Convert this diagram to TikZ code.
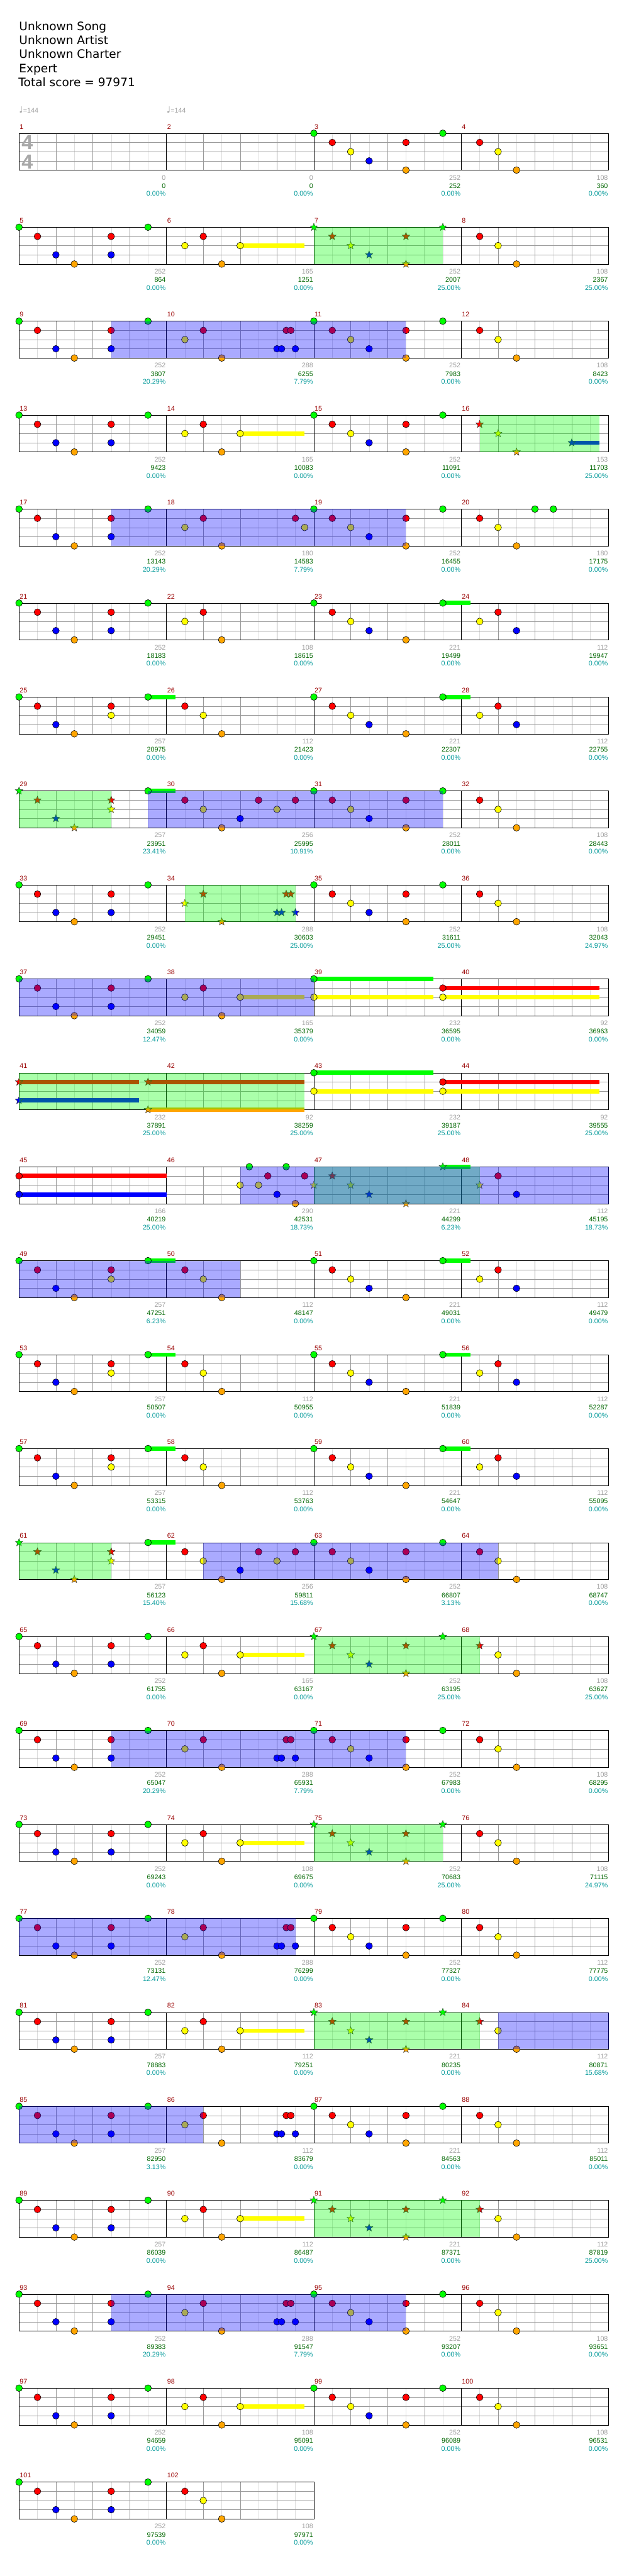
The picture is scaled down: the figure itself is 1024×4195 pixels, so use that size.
\documentclass[tikz,border=0pt]{standalone}
\usepackage{fontspec}
\setmainfont{DejaVu Sans}
\newfontfamily\sfont{Liberation Sans}
\newfontfamily\djv{DejaVu Sans}
\usetikzlibrary{shapes.geometric}
\definecolor{L0}{HTML}{00FF00}
\definecolor{L1}{HTML}{FF0000}
\definecolor{L2}{HTML}{FFFF00}
\definecolor{L3}{HTML}{0000FF}
\definecolor{L4}{HTML}{FFA500}
\definecolor{mnum}{HTML}{990000}
\definecolor{sgray}{HTML}{A0A0A0}
\definecolor{sgreen}{HTML}{006600}
\definecolor{scyan}{HTML}{009999}
\definecolor{gridA}{HTML}{999999}
\definecolor{gridB}{HTML}{DDDDDD}
\definecolor{tsig}{HTML}{A8A8A8}
\newif\ifstarmode
\newcommand\SON{\starmodetrue}
\newcommand\SOFF{\starmodefalse}
\newcommand\Setm[1]{%
  \pgfmathtruncatemacro\mrow{(#1-1)/4}%
  \pgfmathtruncatemacro\mcol{#1-1-4*\mrow}%
  \pgfmathsetmacro\MX{31+240*\mcol}%
  \pgfmathsetmacro\MY{217+153*\mrow}}
\newcommand\Nt[2]{%
  \ifstarmode
    \node[starnote,fill=L#2] at ({\MX+30*#1},{\MY+15*#2}) {};%
  \else
    \node[circnote,fill=L#2] at ({\MX+30*#1},{\MY+15*#2}) {};%
  \fi}
\newcommand\Su[3]{\fill[L#2] ({\MX+30*#1},{\MY+15*#2-3.5}) rectangle ({\MX+30*#3},{\MY+15*#2+3.5});}
\newcommand\Ms[2]{\Setm{#1}#2}
\newcommand\Rg[4]{\Setm{#1}\fill[#2,fill opacity=0.333] ({\MX+30*#3},\MY) rectangle ({\MX+30*#4},{\MY+60});}
\newcommand\Msc[4]{\Setm{#1}%
  \node[mnumst] (mn#1) at ({\MX+1},{\MY-7}) {#1};
  \node[scst,text=sgray] (sa#1) at ({\MX+239},{\MY+76}) {#2};
  \node[scst,text=sgreen] (sb#1) at ({\MX+239},{\MY+89.5}) {#3};
  \node[scst,text=scyan] (sc#1) at ({\MX+239},{\MY+102.5}) {#4\%};}
\newcommand\Staff[2]{%
  \pgfmathsetmacro\SY{217+153*#1}%
  \pgfmathsetmacro\SE{31+240*#2}%
  \pgfmathtruncatemacro\NE{8*#2-1}%
  \pgfmathtruncatemacro\NM{#2-1}%
  \foreach \k in {1,3,...,\NE}{\draw[gridB] ({31+30*\k},\SY) -- ({31+30*\k},{\SY+60});}
  \foreach \k in {1,2,3}{\draw[gridA] (31,{\SY+15*\k}) -- (\SE,{\SY+15*\k});}
  \foreach \k in {2,4,...,\NE}{\draw[gridA] ({31+30*\k},\SY) -- ({31+30*\k},{\SY+60});}
  \foreach \k in {1,...,\NM}{\draw[black] ({31+240*\k},\SY) -- ({31+240*\k},{\SY+60});}
  \draw[black] (31,\SY) rectangle (\SE,{\SY+60});}
% note patterns
\newcommand\ptA{\Nt00\Nt11\Nt22\Nt33\Nt51\Nt54\Nt70}
\newcommand\ptB{\Nt00\Nt11\Nt23\Nt34\Nt51\Nt53\Nt70}
\newcommand\ptC{\Nt11\Nt22\Nt34}
\newcommand\ptI{\Nt12\Nt21\Nt34}
\newcommand\ptD{\ptI\Su42{7.5}\Nt42}
\newcommand\ptE{\Nt00\Nt11\Nt23\Nt34\Nt51\Nt52\Su70{8.5}\Nt70}
\newcommand\ptG{\Nt00\Nt11\Nt22\Nt33\Nt54\Su70{8.5}\Nt70}
\newcommand\ptH{\Nt12\Nt21\Nt33}
\newcommand\ptJ{\ptI\Nt63\Nt{6.25}3\Nt{6.5}1\Nt{6.75}1\Nt73}
\newcommand\ptS{\Su00{6.5}\Su02{6.5}\Nt00\Nt02\Su71{15.5}\Su72{15.5}\Nt71\Nt72}
\begin{document}
\begin{tikzpicture}[x=1pt,y=-1pt,
  circnote/.style={circle,draw=black,line width=0.6pt,minimum size=11pt,inner sep=0pt},
  starnote/.style={star,star points=5,star point ratio=2.3,draw=black!80,line width=0.5pt,minimum size=13pt,inner sep=0pt},
  scst/.style={font=\sfont\fontsize{11}{11}\selectfont,anchor=base east,inner sep=0pt},
  mnumst/.style={font=\sfont\fontsize{11}{11}\selectfont,anchor=base west,inner sep=0pt,text=mnum},
  hdr/.style={anchor=base west,inner sep=0pt,font=\fontsize{19}{23}\selectfont},
  tmp/.style={anchor=base west,inner sep=0pt,text=sgray,font=\sfont\fontsize{11}{11}\selectfont},
  tsg/.style={font=\sfont\bfseries\fontsize{33}{33}\selectfont,text=tsig,inner sep=0pt}]
\useasboundingbox (0,0) rectangle (1024,4195);
\fill[white] (0,0) rectangle (1024,4195);
% header
\node[hdr] (title) at (31,49.3) {Unknown Song};
\node[hdr] (artist) at (31,72.2) {Unknown Artist};
\node[hdr] (charter) at (31,95.1) {Unknown Charter};
\node[hdr] (diff) at (31,118) {Expert};
\node[hdr] (total) at (30,140.9) {Total score = 97971};
\node[tmp] (tempoa) at (31,184) {{\djv\fontsize{14}{14}\selectfont ♩}=144};
\node[tmp] (tempob) at (271,184) {{\djv\fontsize{14}{14}\selectfont ♩}=144};
% staffs
\foreach \r in {0,...,24}{\Staff{\r}{4}}
\Staff{25}{2}
\node[tsg] (tsa) at (44.5,232) {4};
\node[tsg] (tsb) at (44.5,263.5) {4};
% measure numbers and scores
\Msc{1}{0}{0}{0.00}\Msc{2}{0}{0}{0.00}\Msc{3}{252}{252}{0.00}\Msc{4}{108}{360}{0.00}
\Msc{5}{252}{864}{0.00}\Msc{6}{165}{1251}{0.00}\Msc{7}{252}{2007}{25.00}\Msc{8}{108}{2367}{25.00}
\Msc{9}{252}{3807}{20.29}\Msc{10}{288}{6255}{7.79}\Msc{11}{252}{7983}{0.00}\Msc{12}{108}{8423}{0.00}
\Msc{13}{252}{9423}{0.00}\Msc{14}{165}{10083}{0.00}\Msc{15}{252}{11091}{0.00}\Msc{16}{153}{11703}{25.00}
\Msc{17}{252}{13143}{20.29}\Msc{18}{180}{14583}{7.79}\Msc{19}{252}{16455}{0.00}\Msc{20}{180}{17175}{0.00}
\Msc{21}{252}{18183}{0.00}\Msc{22}{108}{18615}{0.00}\Msc{23}{221}{19499}{0.00}\Msc{24}{112}{19947}{0.00}
\Msc{25}{257}{20975}{0.00}\Msc{26}{112}{21423}{0.00}\Msc{27}{221}{22307}{0.00}\Msc{28}{112}{22755}{0.00}
\Msc{29}{257}{23951}{23.41}\Msc{30}{256}{25995}{10.91}\Msc{31}{252}{28011}{0.00}\Msc{32}{108}{28443}{0.00}
\Msc{33}{252}{29451}{0.00}\Msc{34}{288}{30603}{25.00}\Msc{35}{252}{31611}{25.00}\Msc{36}{108}{32043}{24.97}
\Msc{37}{252}{34059}{12.47}\Msc{38}{165}{35379}{0.00}\Msc{39}{232}{36595}{0.00}\Msc{40}{92}{36963}{0.00}
\Msc{41}{232}{37891}{25.00}\Msc{42}{92}{38259}{25.00}\Msc{43}{232}{39187}{25.00}\Msc{44}{92}{39555}{25.00}
\Msc{45}{166}{40219}{25.00}\Msc{46}{290}{42531}{18.73}\Msc{47}{221}{44299}{6.23}\Msc{48}{112}{45195}{18.73}
\Msc{49}{257}{47251}{6.23}\Msc{50}{112}{48147}{0.00}\Msc{51}{221}{49031}{0.00}\Msc{52}{112}{49479}{0.00}
\Msc{53}{257}{50507}{0.00}\Msc{54}{112}{50955}{0.00}\Msc{55}{221}{51839}{0.00}\Msc{56}{112}{52287}{0.00}
\Msc{57}{257}{53315}{0.00}\Msc{58}{112}{53763}{0.00}\Msc{59}{221}{54647}{0.00}\Msc{60}{112}{55095}{0.00}
\Msc{61}{257}{56123}{15.40}\Msc{62}{256}{59811}{15.68}\Msc{63}{252}{66807}{3.13}\Msc{64}{108}{68747}{0.00}
\Msc{65}{252}{61755}{0.00}\Msc{66}{165}{63167}{0.00}\Msc{67}{252}{63195}{25.00}\Msc{68}{108}{63627}{25.00}
\Msc{69}{252}{65047}{20.29}\Msc{70}{288}{65931}{7.79}\Msc{71}{252}{67983}{0.00}\Msc{72}{108}{68295}{0.00}
\Msc{73}{252}{69243}{0.00}\Msc{74}{108}{69675}{0.00}\Msc{75}{252}{70683}{25.00}\Msc{76}{108}{71115}{24.97}
\Msc{77}{252}{73131}{12.47}\Msc{78}{288}{76299}{0.00}\Msc{79}{252}{77327}{0.00}\Msc{80}{112}{77775}{0.00}
\Msc{81}{257}{78883}{0.00}\Msc{82}{112}{79251}{0.00}\Msc{83}{221}{80235}{0.00}\Msc{84}{112}{80871}{15.68}
\Msc{85}{257}{82950}{3.13}\Msc{86}{112}{83679}{0.00}\Msc{87}{221}{84563}{0.00}\Msc{88}{112}{85011}{0.00}
\Msc{89}{257}{86039}{0.00}\Msc{90}{112}{86487}{0.00}\Msc{91}{221}{87371}{0.00}\Msc{92}{112}{87819}{25.00}
\Msc{93}{252}{89383}{20.29}\Msc{94}{288}{91547}{7.79}\Msc{95}{252}{93207}{0.00}\Msc{96}{108}{93651}{0.00}
\Msc{97}{252}{94659}{0.00}\Msc{98}{108}{95091}{0.00}\Msc{99}{252}{96089}{0.00}\Msc{100}{108}{96531}{0.00}
\Msc{101}{252}{97539}{0.00}\Msc{102}{108}{97971}{0.00}
% notes
\Ms{3}{\ptA}\Ms{4}{\ptC}
\Ms{5}{\ptB}\Ms{6}{\ptD}\Ms{7}{\SON\ptA\SOFF}\Ms{8}{\ptC}
\Ms{9}{\ptB}\Ms{10}{\ptJ}\Ms{11}{\ptA}\Ms{12}{\ptC}
\Ms{13}{\ptB}\Ms{14}{\ptD}\Ms{15}{\ptA}\Ms{16}{\SON\Nt11\Nt22\Nt34\Su63{7.5}\Nt63\SOFF}
\Ms{17}{\ptB}\Ms{18}{\ptI\Nt71\Nt{7.5}2}\Ms{19}{\ptA}\Ms{20}{\ptC\Nt40\Nt50}
\Ms{21}{\ptB}\Ms{22}{\ptI}\Ms{23}{\ptG}\Ms{24}{\ptH}
\Ms{25}{\ptE}\Ms{26}{\ptC}\Ms{27}{\ptG}\Ms{28}{\ptH}
\Ms{29}{\SON\Nt00\Nt11\Nt23\Nt34\Nt51\Nt52\SOFF\Su70{8.5}\Nt70}
\Ms{30}{\Nt11\Nt22\Nt34\Nt43\Nt51\Nt62\Nt71}\Ms{31}{\ptA}\Ms{32}{\ptC}
\Ms{33}{\ptB}\Ms{34}{\SON\ptJ\SOFF}\Ms{35}{\ptA}\Ms{36}{\ptC}
\Ms{37}{\ptB}\Ms{38}{\ptD}\Ms{39}{\ptS}
\Ms{41}{\SON\Su01{6.5}\Su03{6.5}\Nt01\Nt03\Su71{15.5}\Su74{15.5}\Nt71\Nt74\SOFF}
\Ms{43}{\ptS}
\Ms{45}{\Su01{8}\Su03{8}\Nt01\Nt03}
\Ms{46}{\Nt42\Nt{4.5}0\Nt52\Nt{5.5}1\Nt63\Nt{6.5}0\Nt74\Nt{7.5}1}
\Ms{47}{\SON\Nt02\Nt11\Nt22\Nt33\Nt54\Su70{8.5}\Nt70\SOFF}
\Ms{48}{\SON\Nt12\SOFF\Nt21\Nt33}
\Ms{49}{\ptE}\Ms{50}{\ptC}\Ms{51}{\ptG}\Ms{52}{\ptH}
\Ms{53}{\ptE}\Ms{54}{\ptC}\Ms{55}{\ptG}\Ms{56}{\ptH}
\Ms{57}{\ptE}\Ms{58}{\ptC}\Ms{59}{\ptG}\Ms{60}{\ptH}
\Ms{61}{\SON\Nt00\Nt11\Nt23\Nt34\Nt51\Nt52\SOFF\Su70{8.5}\Nt70}
\Ms{62}{\Nt11\Nt22\Nt34\Nt43\Nt51\Nt62\Nt71}\Ms{63}{\ptA}\Ms{64}{\ptC}
\Ms{65}{\ptB}\Ms{66}{\ptD}\Ms{67}{\SON\ptA\SOFF}\Ms{68}{\SON\Nt11\SOFF\Nt22\Nt34}
\Ms{69}{\ptB}\Ms{70}{\ptJ}\Ms{71}{\ptA}\Ms{72}{\ptC}
\Ms{73}{\ptB}\Ms{74}{\ptD}\Ms{75}{\SON\ptA\SOFF}\Ms{76}{\ptC}
\Ms{77}{\ptB}\Ms{78}{\ptJ}\Ms{79}{\ptA}\Ms{80}{\ptC}
\Ms{81}{\ptB}\Ms{82}{\ptD}\Ms{83}{\SON\ptA\SOFF}\Ms{84}{\SON\Nt11\SOFF\Nt22\Nt34}
\Ms{85}{\ptB}\Ms{86}{\ptJ}\Ms{87}{\ptA}\Ms{88}{\ptC}
\Ms{89}{\ptB}\Ms{90}{\ptD}\Ms{91}{\SON\ptA\SOFF}\Ms{92}{\SON\Nt11\SOFF\Nt22\Nt34}
\Ms{93}{\ptB}\Ms{94}{\ptJ}\Ms{95}{\ptA}\Ms{96}{\ptC}
\Ms{97}{\ptB}\Ms{98}{\ptD}\Ms{99}{\ptA}\Ms{100}{\ptC}
\Ms{101}{\ptB}\Ms{102}{\ptC}
% star power phrases (green), drawn first
\Rg{7}{L0}{0}{7}
\Rg{16}{L0}{1}{7.5}
\Rg{29}{L0}{0}{5}
\Rg{34}{L0}{1}{7}
\Rg{41}{L0}{0}{15.5}
\Rg{47}{L0}{0}{9}
\Rg{61}{L0}{0}{5}
\Rg{67}{L0}{0}{9}
\Rg{75}{L0}{0}{7}
\Rg{83}{L0}{0}{9}
\Rg{91}{L0}{0}{9}
% star power activations (blue)
\Rg{9}{L3}{5}{21}
\Rg{17}{L3}{5}{21}
\Rg{29}{L3}{7}{23}
\Rg{37}{L3}{0}{16}
\Rg{46}{L3}{4}{24}
\Rg{49}{L3}{0}{12}
\Rg{62}{L3}{2}{18}
\Rg{69}{L3}{5}{21}
\Rg{77}{L3}{0}{15}
\Rg{84}{L3}{2}{8}
\Rg{85}{L3}{0}{10}
\Rg{93}{L3}{5}{21}
\end{tikzpicture}
\end{document}
